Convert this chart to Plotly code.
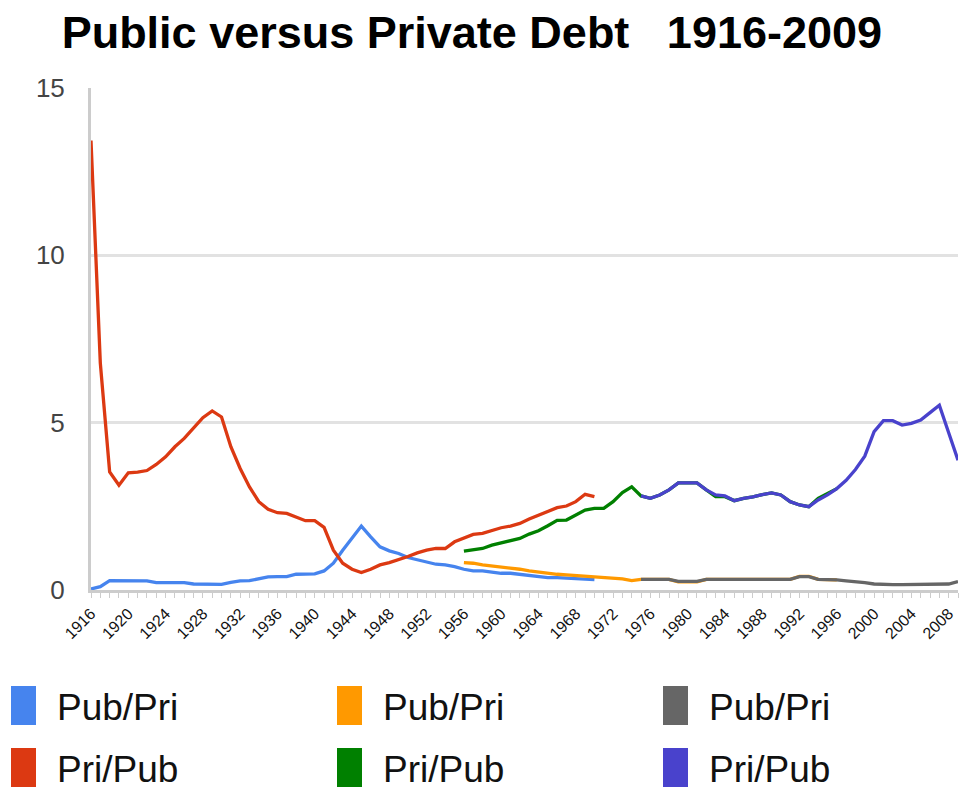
import plotly.graph_objects as go

# ---------------- data ----------------
names = ["Pub/Pri", "Pri/Pub", "Pub/Pri", "Pri/Pub", "Pub/Pri", "Pri/Pub"]
colors = ["#4684ee", "#dc3912", "#ff9900", "#008000", "#666666", "#4942cc"]

years_a = list(range(1916, 1971))   # series 1 (blue / red)
years_b = list(range(1956, 1997))   # series 2 (orange / green)
years_c = list(range(1975, 2010))   # series 3 (gray / purple)

pub_pri_1 = [0.03, 0.10, 0.28, 0.28, 0.28, 0.28, 0.27, 0.22, 0.22, 0.22,
             0.22, 0.18, 0.17, 0.17, 0.17, 0.23, 0.27, 0.28, 0.34, 0.39,
             0.40, 0.40, 0.47, 0.47, 0.48, 0.57, 0.80, 1.19, 1.57, 1.91,
             1.59, 1.29, 1.17, 1.09, 0.97, 0.90, 0.82, 0.77, 0.75, 0.70,
             0.62, 0.57, 0.57, 0.54, 0.50, 0.50, 0.47, 0.43, 0.40, 0.37,
             0.37, 0.35, 0.33, 0.31, 0.31]
pri_pub_1 = [13.43, 6.78, 3.53, 3.13, 3.50, 3.52, 3.57, 3.75, 3.98, 4.28,
             4.53, 4.83, 5.15, 5.35, 5.17, 4.28, 3.63, 3.08, 2.64, 2.41,
             2.31, 2.29, 2.19, 2.07, 2.07, 1.87, 1.19, 0.80, 0.62, 0.52,
             0.62, 0.75, 0.82, 0.90, 1.00, 1.11, 1.19, 1.24, 1.24, 1.44,
             1.56, 1.66, 1.69, 1.77, 1.86, 1.91, 1.99, 2.12, 2.24, 2.36,
             2.46, 2.51, 2.64, 2.86, 2.79]
pub_pri_2 = [0.82, 0.80, 0.75, 0.72, 0.67, 0.65, 0.62, 0.57, 0.53, 0.50,
             0.47, 0.45, 0.43, 0.40, 0.40, 0.38, 0.35, 0.33, 0.28, 0.32,
             0.32, 0.32, 0.32, 0.24, 0.24, 0.24, 0.32, 0.32, 0.32, 0.32,
             0.32, 0.32, 0.32, 0.32, 0.32, 0.32, 0.41, 0.41, 0.32, 0.32,
             0.30]
pri_pub_2 = [1.16, 1.19, 1.24, 1.34, 1.41, 1.46, 1.54, 1.67, 1.77, 1.92,
             2.08, 2.09, 2.24, 2.39, 2.44, 2.44, 2.64, 2.91, 3.08, 2.81,
             2.74, 2.84, 2.99, 3.20, 3.20, 3.20, 2.99, 2.79, 2.79, 2.67,
             2.74, 2.78, 2.85, 2.90, 2.84, 2.64, 2.54, 2.49, 2.74, 2.88,
             3.03]
pub_pri_3 = [0.32, 0.32, 0.32, 0.32, 0.26, 0.26, 0.26, 0.32, 0.32, 0.32,
             0.32, 0.32, 0.32, 0.32, 0.32, 0.32, 0.32, 0.40, 0.40, 0.32,
             0.32, 0.30, 0.27, 0.25, 0.22, 0.18, 0.16, 0.16, 0.16, 0.16,
             0.16, 0.16, 0.16, 0.18, 0.25]
pri_pub_3 = [2.81, 2.74, 2.84, 2.99, 3.20, 3.20, 3.20, 2.99, 2.84, 2.81,
             2.67, 2.74, 2.78, 2.85, 2.90, 2.84, 2.64, 2.54, 2.49, 2.69,
             2.84, 3.03, 3.28, 3.60, 4.00, 4.73, 5.06, 5.06, 4.93, 4.98,
             5.08, 5.30, 5.52, 4.70, 3.88]

y_ticks = [0, 5, 10, 15]
title_text = "Public versus Private Debt\u00a0\u00a0\u00a01916-2009"

series = [
    (years_a, pub_pri_1), (years_a, pri_pub_1),
    (years_b, pub_pri_2), (years_b, pri_pub_2),
    (years_c, pub_pri_3), (years_c, pri_pub_3),
]

# ---------------- figure ----------------
fig = go.Figure()
for (xs, ys), nm, col in zip(series, names, colors):
    fig.add_trace(go.Scatter(x=xs, y=ys, name=nm, mode="lines",
                             line=dict(color=col, width=3.3), showlegend=False))

L, R, T, B = 91, 3, 88, 199
W, H = 961, 789
pw, ph = W - L - R, H - T - B


def px_x(px):
    return (px - L) / pw


def px_y(py):
    return (H - B - py) / ph


# custom legend: 2 rows x 3 columns (column-major)
shapes = []
annotations = []
for i, (nm, col) in enumerate(zip(names, colors)):
    c, r = i // 2, i % 2
    x0 = 11 + c * 326
    y0 = 686 + r * 62
    shapes.append(dict(type="rect", xref="paper", yref="paper",
                       x0=px_x(x0), x1=px_x(x0 + 25),
                       y0=px_y(y0 + 39), y1=px_y(y0),
                       fillcolor=col, line=dict(width=0)))
    annotations.append(dict(text=nm, xref="paper", yref="paper",
                            x=px_x(x0 + 44), y=px_y(y0 + 21),
                            xanchor="left", yanchor="middle", showarrow=False,
                            font=dict(size=37, color="#111111",
                                      family="Liberation Sans, Arial")))

fig.update_layout(
    width=W, height=H,
    margin=dict(l=L, r=R, t=T, b=B),
    paper_bgcolor="white", plot_bgcolor="white",
    font=dict(family="Liberation Sans, Arial", color="#333333"),
    showlegend=False,
    title=dict(text="<b>" + title_text + "</b>", xref="container", yref="container",
               x=0.491, y=1 - 32 / H, xanchor="center", yanchor="middle",
               font=dict(size=45, color="#000000", family="Liberation Sans, Arial")),
    shapes=shapes,
    annotations=annotations,
    xaxis=dict(range=[1916, 2009], tickmode="linear", tick0=1916, dtick=4,
               tickangle=-45, tickfont=dict(size=16, color="#111111"),
               ticks="outside", ticklen=5, tickcolor="#cccccc", tickwidth=1,
               showline=True, linecolor="#cccccc", linewidth=3,
               showgrid=False, zeroline=False,
               minor=dict(dtick=1, ticks="outside", ticklen=5,
                          tickcolor="#cccccc", showgrid=False)),
    yaxis=dict(range=[0, 15], tickmode="array", tickvals=y_ticks,
               ticktext=[str(v) for v in y_ticks],
               tickfont=dict(size=26, color="#444444"),
               ticks="", ticklabelstandoff=18,
               showline=True, linecolor="#cccccc", linewidth=3,
               showgrid=True, gridcolor="#e2e2e2", gridwidth=3,
               zeroline=False),
)

fig.write_html("out.html")
